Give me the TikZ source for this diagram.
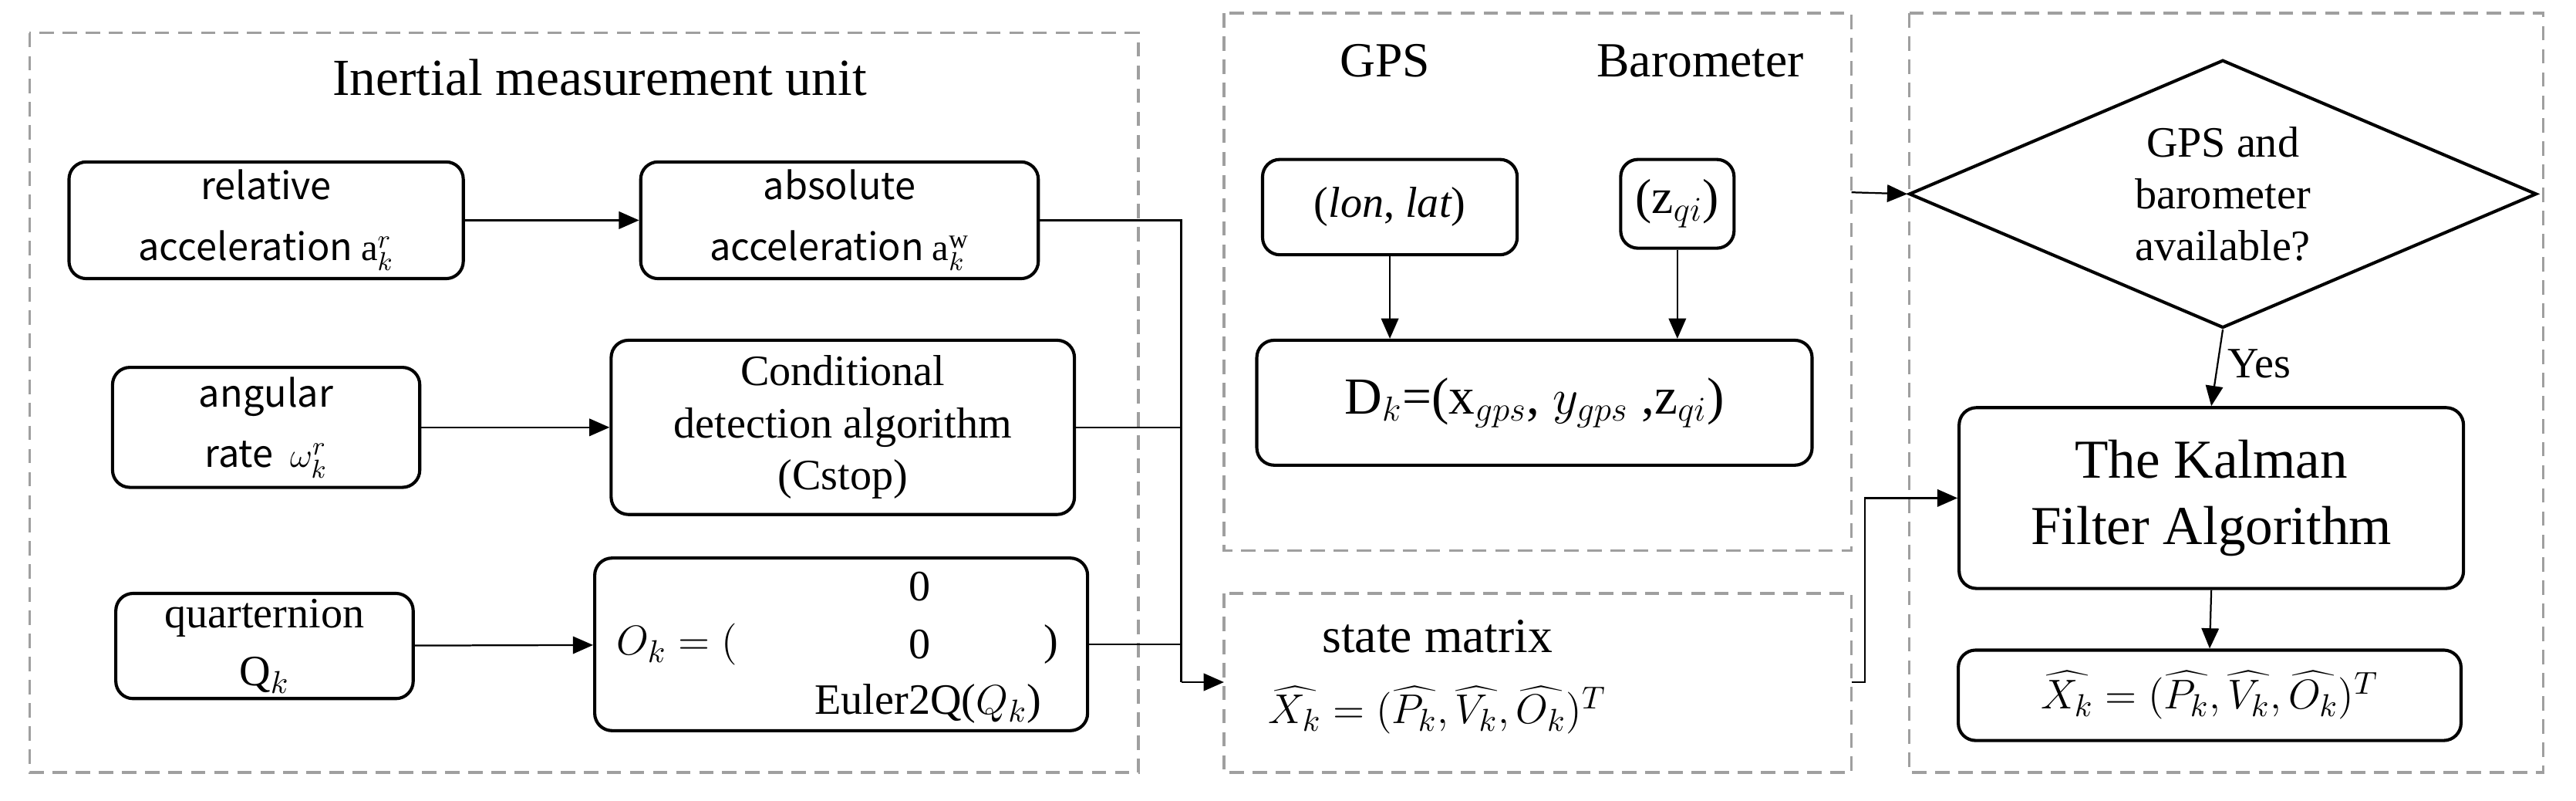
\documentclass[tikz,border=0pt]{standalone}
\usepackage{fontspec}
\setmainfont{Liberation Serif}
\newfontfamily\cjksans{Noto Sans CJK SC}
\usetikzlibrary{shapes.geometric,arrows.meta}
\begin{document}
\begin{tikzpicture}[x=0.2mm,y=-0.2mm,
  grp/.style={draw=gray!75,dashed,line width=0.9pt,dash pattern=on 5pt off 3pt},
  box/.style={draw,line width=1.1pt,rounded corners=6pt,align=center,inner sep=0pt},
  sans/.style={font=\cjksans\fontsize{13}{21}\selectfont},
  serif/.style={font=\fontsize{15}{18}\selectfont},
  arr/.style={-{Triangle[length=7pt,width=6pt]},line width=0.6pt},
  ln/.style={line width=0.6pt}]
\useasboundingbox (0,0) rectangle (1568,487);
% groups
\draw[grp] (18,20) rectangle (693,470);
\draw[grp] (745,8) rectangle (1127,335);
\draw[grp] (745,361) rectangle (1127,470);
\draw[grp] (1162,8) rectangle (1548,470);
\node[font=\fontsize{18}{20}\selectfont] (title) at (365,47) {Inertial measurement unit};
\node[font=\fontsize{17}{20}\selectfont] (gpsl) at (843,37) {GPS};
\node[font=\fontsize{17}{20}\selectfont] (barl) at (1035,37) {Barometer};
% IMU boxes
\node[box,sans,minimum width=48mm,minimum height=14.2mm] (rel) at (162,134) {relative\\acceleration $\mathrm{a}_k^r$};
\node[box,sans,minimum width=48.4mm,minimum height=14.2mm] (abs) at (511,134) {absolute\\acceleration $\mathrm{a}_k^{\mathrm{w}}$};
\node[box,sans,minimum width=37.4mm,minimum height=14.6mm] (ang) at (162,260) {angular\\rate\ \ $\omega_k^r$};
\node[box,serif,minimum width=56.4mm,minimum height=21.2mm] (cond) at (513,260) {Conditional\\detection algorithm\\(Cstop)};
\node[box,serif,minimum width=36.2mm,minimum height=12.8mm,font=\fontsize{15}{20}\selectfont] (quat) at (161,393) {quarternion\\$\mathrm{Q}_k$};
\node[box,minimum width=60mm,minimum height=21mm] (ok) at (512,392) {};
\node[serif] (okl) at (412,392) {$O_k=($};
\node[serif] (okz1) at (560,357) {0};
\node[serif] (okz2) at (560,392) {0};
\node[serif] (okr) at (640,392) {)};
\node[serif] (oke) at (565,428) {Euler2Q($Q_k$)};
% GPS boxes
\node[box,serif,minimum width=31mm,minimum height=11.6mm] (ll) at (846,126) {($\mathit{lon}$,\ $\mathit{lat}$)};
\node[box,serif,minimum width=13.8mm,minimum height=10.8mm,font=\fontsize{17}{20}\selectfont] (zq) at (1021,124) {($\mathrm{z}_{qi}$)};
\node[box,font=\fontsize{18}{20}\selectfont,minimum width=67.6mm,minimum height=15.2mm] (dk) at (934,245) {$\mathrm{D}_k$=($\mathrm{x}_{gps}$, $y_{gps}$ ,$\mathrm{z}_{qi}$)};
% state
\node[font=\fontsize{17}{20}\selectfont] (stl) at (875,387) {state matrix};
\node[serif] (st) at (875,432) {$\widehat{X_k}=(\widehat{P_k},\widehat{V_k},\widehat{O_k})^T$};
\coordinate (stE) at (1127,415);
\coordinate (stW) at (745,415);
\coordinate (mE) at (1127,117);
% right
\node[draw,line width=1.1pt,diamond,aspect=2.34,minimum width=76.4mm,minimum height=32.6mm,inner sep=0pt,align=center,serif] (dia) at (1353,118) {GPS and\\barometer\\available?};
\node[box,font=\fontsize{19}{23}\selectfont,minimum width=61.4mm,minimum height=22mm] (kal) at (1346,303) {The Kalman\\Filter Algorithm};
\node[box,serif,minimum width=61.2mm,minimum height=11mm] (res) at (1345,423) {$\widehat{X_k}=(\widehat{P_k},\widehat{V_k},\widehat{O_k})^T$};
% connectors
\draw[arr] (rel) -- (abs);
\draw[arr] (ang) -- (cond);
\draw[arr] (quat) -- (ok);
\draw[ln] (abs.east) -- (719,134) -- (719,415);
\draw[ln] (cond.east) -- (719,260);
\draw[ln] (ok.east) -- (719,392);
\draw[arr] (719,415) -- (stW);
\draw[arr] (ll.south) -- (ll.south |- dk.north);
\draw[arr] (zq.south) -- (zq.south |- dk.north);
\draw[arr] (mE) -- (dia.west);
\draw[arr] (dia.south) -- node[right,serif,pos=0.45] {Yes} (kal.north);
\draw[arr] (kal.south) -- (res.north);
\draw[arr] (stE) -- (1135,415) |- (kal.west);
\end{tikzpicture}
\end{document}
